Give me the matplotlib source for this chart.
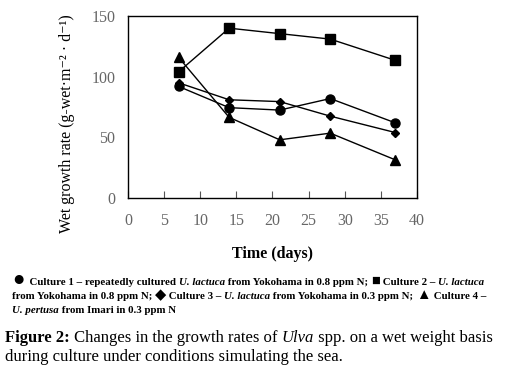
import matplotlib
matplotlib.use("Agg")
import matplotlib.pyplot as plt

plt.rcParams['font.family'] = ['Liberation Serif', 'DejaVu Sans']

days = [7, 14, 21, 28, 37]
culture1 = [92, 74.5, 72.5, 82, 62]
culture2 = [104, 140, 135.5, 131, 113.5]
culture3 = [95, 81, 79.5, 67.5, 54]
culture4 = [116, 66.5, 48, 53.5, 31.5]

fig = plt.figure(figsize=(5.06, 3.73), dpi=100)
ax = fig.add_axes([0.253, 0.469, 0.571, 0.488])

ax.plot(days, culture1, 'k-', marker='o', ms=6.5, lw=1)
ax.plot(days, culture2, 'k-', marker='s', ms=7.5, lw=1)
ax.plot(days, culture3, 'k-', marker='D', ms=4.5, lw=1)
ax.plot(days, culture4, 'k-', marker='^', ms=7, lw=1)

ax.set_xlim(0, 40)
ax.set_ylim(0, 150)
ax.set_xticks(range(0, 45, 5))
ax.set_yticks([0, 50, 100, 150])
ax.tick_params(axis='x', direction='in', length=5, width=0.8, colors='#555555',
               labelsize=11.5, pad=11)
ax.tick_params(axis='y', length=0, colors='#555555', labelsize=11.5, pad=9)
ax.tick_params(axis='both', labelcolor='#666666')
for s in ax.spines.values():
    s.set_linewidth(1)

ax.set_xlabel('Time (days)', fontsize=11.5, fontweight='bold', labelpad=12)
ax.set_ylabel('Wet growth rate (g-wet\u00b7m\u207b\u00b2 \u00b7 d\u207b\u00b9)', fontsize=11.5)
ax.yaxis.set_label_coords(-0.185, 0.41)

fig.canvas.draw()
renderer = fig.canvas.get_renderer()
W, H = fig.bbox.width, fig.bbox.height

# legend symbols drawn larger than the text around them
sym_scale = {'\u25cf': 1.9, '\u25a0': 1.35, '\u25c6': 1.35, '\u25b2': 1.35}


def draw_line(x_px, y_px, parts, size):
    x = x_px
    for txt, style, weight in parts:
        fs = size
        if style == 'sym':
            fs, style = size * sym_scale[txt], 'normal'
        t = fig.text(x / W, 1 - y_px / H, txt, fontsize=fs, style=style,
                     weight=weight, va='baseline', ha='left')
        bb = t.get_window_extent(renderer)
        x += bb.width


legend_lines = [
    [('\u25cf', 'sym', 'normal'), ('  Culture 1 \u2013 repeatedly cultured ', 'normal', 'bold'),
     ('U. lactuca', 'italic', 'bold'), (' from Yokohama in 0.8 ppm N; ', 'normal', 'bold'),
     ('\u25a0', 'sym', 'normal'), (' Culture 2 \u2013 ', 'normal', 'bold'),
     ('U. lactuca', 'italic', 'bold')],
    [('from Yokohama in 0.8 ppm N; ', 'normal', 'bold'), ('\u25c6', 'sym', 'normal'),
     (' Culture 3 \u2013 ', 'normal', 'bold'), ('U. lactuca', 'italic', 'bold'),
     (' from Yokohama in 0.3 ppm N; ', 'normal', 'bold'), ('\u25b2', 'sym', 'normal'),
     (' Culture 4 \u2013', 'normal', 'bold')],
    [('U. pertusa', 'italic', 'bold'), (' from Imari in 0.3 ppm N', 'normal', 'bold')],
]
for i, parts in enumerate(legend_lines):
    draw_line(12, 285 + i * 14, parts, 7.8)

caption_lines = [
    [('Figure 2:', 'normal', 'bold'), (' Changes in the growth rates of ', 'normal', 'normal'),
     ('Ulva', 'italic', 'normal'), (' spp. on a wet weight basis', 'normal', 'normal')],
    [('during culture under conditions simulating the sea.', 'normal', 'normal')],
]
for i, parts in enumerate(caption_lines):
    draw_line(5, 342 + i * 19, parts, 12)

fig.savefig('out.png', dpi=100)
